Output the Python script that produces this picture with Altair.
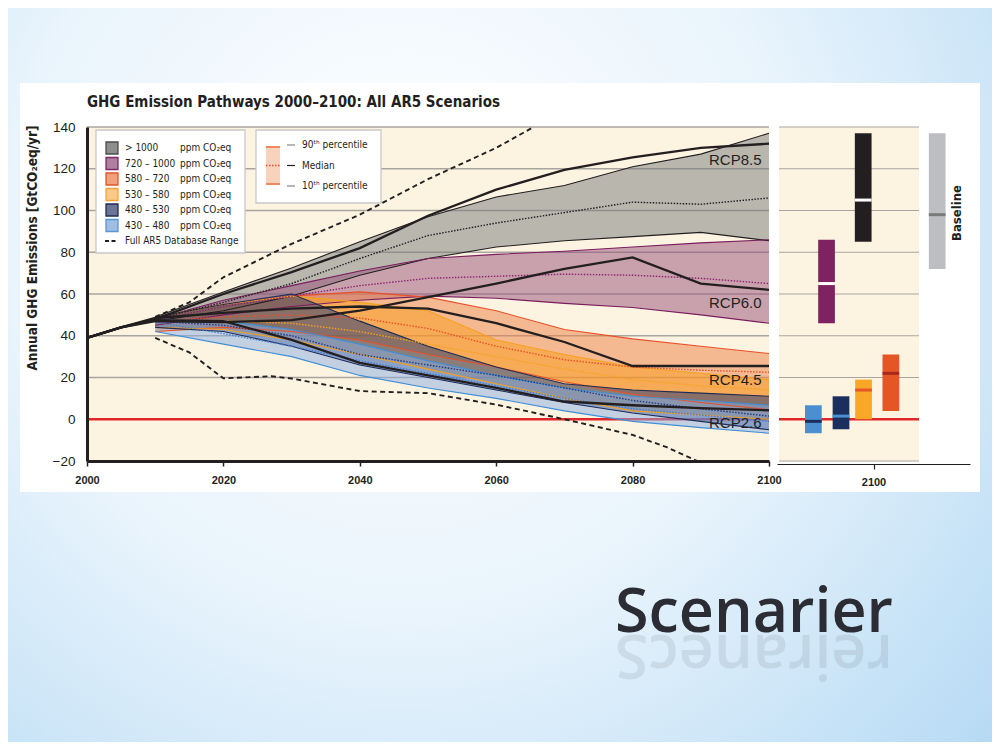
import altair as alt
import pandas as pd

# ------------------------------------------------------------------ data
years = [2010, 2020, 2030, 2040, 2050, 2060, 2070, 2080, 2090, 2100]
categories = [">1000", "720–1000", "580–720", "530–580", "480–530", "430–480"]
legend_labels = ["> 1000", "720 – 1000", "580 – 720", "530 – 580", "480 – 530", "430 – 480"]
unit_label = "ppm CO₂eq"
range_label = "Full AR5 Database Range"

p90_gt1000 = [49, 61, 72.5, 85, 97, 106.5, 112, 121, 127, 137]
med_gt1000 = [48, 56, 65, 77, 88, 94, 99, 104, 103, 106]
p10_gt1000 = [47, 52, 59, 69, 77, 82.5, 85.5, 87.5, 89.5, 85.5]

p90_720 = [48, 57, 64, 71, 77, 79, 80.5, 82.5, 84.5, 86]
med_720 = [47.5, 54, 59, 64, 67.5, 68.5, 69.5, 69, 67.5, 65]
p10_720 = [45, 50, 54, 57, 59, 58, 55.5, 53.5, 50, 46]

p90_580 = [49, 55, 59, 61, 58.5, 52, 43, 38.5, 35, 31.5]
med_580 = [47, 49, 50, 48.5, 43.5, 35, 28.5, 25, 23.5, 22.5]
p10_580 = [42, 44, 42, 38, 31, 25, 18, 12, 8, 4.5]

p90_530 = [49, 55, 59, 56, 52, 38, 31, 25, 22, 19]
med_530 = [47, 47, 46, 42, 36, 30, 24, 19, 16, 14]
p10_530 = [44, 43, 38, 31, 24, 17, 10, 4, 2, 0]

p90_480 = [49, 55, 60, 47, 35, 25, 17, 14, 12.5, 11]
med_480 = [47, 45, 40, 31, 26, 21, 15, 9, 5, 1.5]
p10_480 = [44, 42, 35, 26, 20, 14, 8, 3, -1, -5]

p90_430 = [48, 47, 43, 36, 28, 21, 15, 11, 9, 6.7]
med_430 = [46.5, 41, 35, 28, 22, 16, 10, 5, 2, -1]
p10_430 = [42, 36, 30, 21, 15, 10, 4, -1, -4, -6.7]

rcp_names = ["RCP8.5", "RCP6.0", "RCP4.5", "RCP2.6"]
rcp_years = [2000, 2005, 2010, 2020, 2030, 2040, 2050, 2060, 2070, 2080, 2090, 2100]
rcp85 = [39, 44, 48, 60, 70.5, 82, 97.5, 110, 119.5, 125.5, 130, 132]
rcp60 = [39, 44, 47, 46.5, 47.5, 52, 58.5, 65, 72, 77.5, 65, 62]
rcp45 = [39, 44, 48.5, 51, 53, 54, 53, 46, 37, 25.5, 25.5, 25.5]
rcp26 = [39, 44, 47.5, 47, 38, 27, 21, 15, 8.5, 6.7, 5.3, 4.3]

range_hi_years = [2010, 2015, 2020, 2030, 2040, 2050, 2060, 2065.5]
range_hi = [49, 56, 68, 84, 98, 115, 130, 140]
range_lo_years = [2010, 2015, 2020, 2027, 2030, 2040, 2050, 2060, 2070, 2080, 2085, 2089.5]
range_lo = [39, 32, 19.6, 20.6, 19.5, 13.5, 12.5, 7, 0, -7.5, -13.4, -20]

bar_cats = ["430–480", "480–530", "530–580", "580–720", "720–1000", ">1000", "Baseline"]
bar_hi = [6.7, 11, 19, 31, 86, 137, 137]
bar_lo = [-6.7, -4.8, 0, 4, 46, 85, 72]
bar_med = [-1, 1.5, 14, 22, 65, 105, 98]

y_ticks = [-20, 0, 20, 40, 60, 80, 100, 120, 140]
x_ticks = [2000, 2020, 2040, 2060, 2080, 2100]
right_ticks = [2100]

title_text = "GHG Emission Pathways 2000–2100: All AR5 Scenarios"
ytitle_text = "Annual GHG Emissions [GtCO₂eq/yr]"
baseline_text = "Baseline"
slide_title = "Scenarier"
leg2_keys = ["p90", "med", "p10"]
leg2_labels = ["90ᵗʰ percentile", "Median", "10ᵗʰ percentile"]

# ------------------------------------------------------------------ layout / style
W, H = 984, 734
FONT = "Liberation Sans, Arial, sans-serif"
FONT_N = "Liberation Sans Narrow, DejaVu Sans Condensed, Liberation Sans, sans-serif"
INK = "#231f20"
BEIGE = "#fdf3e1"
GRID = "#a8a5a1"
FILL_OP = 0.5

band_fill = ["#75797c", "#954f78", "#ed7f42", "#f99d1c", "#1a3378", "#89ade2"]
band_edge = [INK, "#7a1d5e", "#e8502a", "#f5a11c", "#1d2b58", "#3f8fd8"]
band_med = [INK, "#8e2574", "#e8502a", "#f5a11c", "#1d3a8a", "#3f7fd0"]
legend_fill = ["#8e8e8e", "#b07fa0", "#f0a07a", "#fdc98a", "#6c7594", "#a0bde3"]
legend_stroke = ["#4d4d4d", "#7b2a68", "#e0562a", "#f6a53a", "#1e2b55", "#5b96d6"]
bar_colors = ["#4a8fd0", "#1b2f5e", "#f9a825", "#e55625", "#7f2262", "#231f20", "#bdbec2"]
bar_med_colors = ["#1b2d5c", "#4a8fd0", "#e8572a", "#a52a1d", "#ffffff", "#ffffff", "#7a7a7a"]
bar_slot = [2090.65, 2094.95, 2098.45, 2102.7, 2092.7, 2098.4, 2109.9]
rcp_label_y = [124, 55.5, 18.7, -2]
rcp_label_x = 2098.9

# ------------------------------------------------------------------ tables
band_arrays = [
    (p10_gt1000, med_gt1000, p90_gt1000),
    (p10_720, med_720, p90_720),
    (p10_580, med_580, p90_580),
    (p10_530, med_530, p90_530),
    (p10_480, med_480, p90_480),
    (p10_430, med_430, p90_430),
]
rows = []
for cat, (lo, md, hi) in zip(categories, band_arrays):
    for yr, a, b, c in zip(years, lo, md, hi):
        rows.append({"cat": cat, "year": yr, "p10": a, "med": b, "p90": c})
bands = pd.DataFrame(rows)

rcp_rows = []
for name, vals in zip(rcp_names, [rcp85, rcp60, rcp45, rcp26]):
    for yr, v in zip(rcp_years, vals):
        rcp_rows.append({"name": name, "year": yr, "val": v})
rcp_df = pd.DataFrame(rcp_rows)

range_df = pd.DataFrame(
    [{"side": "hi", "year": y, "val": v} for y, v in zip(range_hi_years, range_hi)]
    + [{"side": "lo", "year": y, "val": v} for y, v in zip(range_lo_years, range_lo)]
)
rcp_lab_df = pd.DataFrame({"name": rcp_names, "yv": rcp_label_y, "xl": [rcp_label_x] * 4})
bars_df = pd.DataFrame({"cat": bar_cats, "hi": bar_hi, "lo": bar_lo, "med": bar_med, "slot": bar_slot})
one = pd.DataFrame({"k": [0]})

# ------------------------------------------------------------------ main panel
XM = alt.Scale(domain=[2000, 2100], range=[79, 761], nice=False, zero=False)
YM = alt.Scale(domain=[-20, 140], range=[453, 119], nice=False, zero=False)
AX = alt.Axis(values=x_ticks, format="d", orient="bottom", offset=-281, title=None, grid=False,
              domainColor=INK, domainWidth=3, tickColor=INK, tickWidth=1.5, tickSize=5,
              labelFont=FONT, labelFontSize=11, labelFontWeight="bold", labelColor=INK,
              labelPadding=8, labelFlush=False, labelOverlap=False, zindex=2)
AY = alt.Axis(values=y_ticks, orient="left", offset=-79, title=None, grid=False,
              domainColor=INK, domainWidth=3, ticks=False, labelFont=FONT, labelFontSize=13.5,
              labelColor=INK, labelPadding=12, labelOverlap=False, zindex=2)


def mx(f):
    return alt.X(f"{f}:Q", scale=XM, axis=AX)


def my(f):
    return alt.Y(f"{f}:Q", scale=YM, axis=AY, stack=False)


main_layers = [
    alt.Chart(one).transform_calculate(x0="2000", x1="2100", y0="-20", y1="140")
    .mark_rect(fill=BEIGE).encode(x=mx("x0"), x2="x1:Q", y=my("y0"), y2="y1:Q"),
    alt.Chart(pd.DataFrame({"v": y_ticks})).transform_calculate(x0="2000", x1="2100")
    .mark_rule(stroke=GRID, strokeWidth=1.4).encode(x=mx("x0"), x2="x1:Q", y=my("v")),
    alt.Chart(pd.DataFrame({"v": [0]})).transform_calculate(x0="2000", x1="2100")
    .mark_rule(stroke="#e0262b", strokeWidth=2.5).encode(x=mx("x0"), x2="x1:Q", y=my("v")),
]
for cat, fc in zip(categories, band_fill):
    main_layers.append(
        alt.Chart(bands).transform_filter(alt.datum.cat == cat)
        .mark_area(fill=fc, opacity=FILL_OP).encode(x=mx("year"), y=my("p10"), y2="p90:Q")
    )
for cat, ec in zip(categories, band_edge):
    for fld in ["p90", "p10"]:
        main_layers.append(
            alt.Chart(bands).transform_filter(alt.datum.cat == cat)
            .mark_line(stroke=ec, strokeWidth=1.1).encode(x=mx("year"), y=my(fld))
        )
for cat, mc in zip(categories, band_med):
    main_layers.append(
        alt.Chart(bands).transform_filter(alt.datum.cat == cat)
        .mark_line(stroke=mc, strokeWidth=1.4, strokeDash=[1.5, 1.5]).encode(x=mx("year"), y=my("med"))
    )
main_layers += [
    alt.Chart(rcp_df).mark_line(stroke=INK, strokeWidth=2.3)
    .encode(x=mx("year"), y=my("val"), detail="name:N"),
    alt.Chart(range_df).mark_line(stroke=INK, strokeWidth=1.9, strokeDash=[5, 3.5])
    .encode(x=mx("year"), y=my("val"), detail="side:N"),
    alt.Chart(rcp_lab_df).mark_text(align="right", baseline="middle", font=FONT, fontSize=15, color=INK)
    .encode(x=mx("xl"), y=my("yv"), text="name:N"),
]
main = alt.layer(*main_layers)

# ------------------------------------------------------------------ right panel (2100 ranges)
XR = alt.Scale(domain=[2085, 2115], range=[769, 962], nice=False, zero=False)
AXR = alt.Axis(values=right_ticks, format="d", orient="bottom", offset=-278, title=None, grid=False,
               domainColor=INK, domainWidth=1, tickColor=INK, tickWidth=1.2, tickSize=5,
               labelFont=FONT, labelFontSize=11, labelFontWeight="bold", labelColor=INK,
               labelPadding=7, labelFlush=False, zindex=2)


def rx(f):
    return alt.X(f"{f}:Q", scale=XR, axis=AXR)


def ry(f):
    return alt.Y(f"{f}:Q", scale=YM, axis=None, stack=False)


right = alt.layer(
    alt.Chart(one).transform_calculate(x0="2085.31", x1="2107.07", y0="-20", y1="140")
    .mark_rect(fill=BEIGE).encode(x=rx("x0"), x2="x1:Q", y=ry("y0"), y2="y1:Q"),
    alt.Chart(pd.DataFrame({"v": y_ticks})).transform_calculate(x0="2085.31", x1="2107.07")
    .mark_rule(stroke=GRID, strokeWidth=1.2).encode(x=rx("x0"), x2="x1:Q", y=ry("v")),
    alt.Chart(pd.DataFrame({"v": [0]})).transform_calculate(x0="2085.31", x1="2107.07")
    .mark_rule(stroke="#e0262b", strokeWidth=2.5).encode(x=rx("x0"), x2="x1:Q", y=ry("v")),
    alt.Chart(bars_df).transform_calculate(x0="datum.slot - 1.3", x1="datum.slot + 1.3")
    .mark_rect().encode(
        x=rx("x0"), x2="x1:Q", y=ry("lo"), y2="hi:Q",
        fill=alt.Fill("cat:N", scale=alt.Scale(domain=bar_cats, range=bar_colors), legend=None)),
    alt.Chart(bars_df).transform_calculate(x0="datum.slot - 1.3", x1="datum.slot + 1.3")
    .mark_rule(strokeWidth=3).encode(
        x=rx("x0"), x2="x1:Q", y=ry("med"),
        stroke=alt.Stroke("cat:N", scale=alt.Scale(domain=bar_cats, range=bar_med_colors), legend=None)),
)

# ------------------------------------------------------------------ legend 1
keys1 = categories + ["range"]
LY1 = alt.Scale(type="point", domain=keys1, range=[140, 233], padding=0)
leg1_df = pd.DataFrame({"key": categories, "label": legend_labels, "unit": [unit_label] * 6})
LFS = 10
leg1 = alt.layer(
    alt.Chart(one).mark_rect(fill="white", stroke="#c9c9c9", strokeWidth=1.3)
    .encode(x=alt.value(88), x2=alt.value(237), y=alt.value(122), y2=alt.value(245)),
    alt.Chart(leg1_df).mark_square(size=144, opacity=1, strokeWidth=1.3).encode(
        x=alt.value(104), y=alt.Y("key:N", scale=LY1, axis=None),
        fill=alt.Fill("key:N", scale=alt.Scale(domain=categories, range=legend_fill), legend=None),
        stroke=alt.Stroke("key:N", scale=alt.Scale(domain=categories, range=legend_stroke), legend=None)),
    alt.Chart(leg1_df).mark_text(align="left", baseline="middle", font=FONT_N, fontSize=LFS, color=INK)
    .encode(x=alt.value(117), y=alt.Y("key:N", scale=LY1, axis=None), text="label:N"),
    alt.Chart(leg1_df).mark_text(align="left", baseline="middle", font=FONT_N, fontSize=LFS, color=INK)
    .encode(x=alt.value(172), y=alt.Y("key:N", scale=LY1, axis=None), text="unit:N"),
    alt.Chart(pd.DataFrame({"key": ["range"], "label": [range_label]}))
    .mark_rule(stroke=INK, strokeWidth=2.2, strokeDash=[4, 2.5])
    .encode(x=alt.value(97), x2=alt.value(110), y=alt.Y("key:N", scale=LY1, axis=None)),
    alt.Chart(pd.DataFrame({"key": ["range"], "label": [range_label]}))
    .mark_text(align="left", baseline="middle", font=FONT_N, fontSize=LFS, color=INK)
    .encode(x=alt.value(117), y=alt.Y("key:N", scale=LY1, axis=None), text="label:N"),
)

# ------------------------------------------------------------------ legend 2
LY2 = alt.Scale(type="point", domain=leg2_keys, range=[137, 178], padding=0)
leg2_df = pd.DataFrame({"key": leg2_keys, "label": leg2_labels})
leg2 = alt.layer(
    alt.Chart(one).mark_rect(fill="white", stroke="#c9c9c9", strokeWidth=1.3)
    .encode(x=alt.value(248), x2=alt.value(373), y=alt.value(122), y2=alt.value(195)),
    alt.Chart(one).mark_rect(fill="#f9d2bb")
    .encode(x=alt.value(258), x2=alt.value(272), y=alt.value(139), y2=alt.value(176)),
    alt.Chart(one).mark_rule(stroke="#f08a5d", strokeWidth=2)
    .encode(x=alt.value(258), x2=alt.value(272), y=alt.value(139)),
    alt.Chart(one).mark_rule(stroke="#f08a5d", strokeWidth=2)
    .encode(x=alt.value(258), x2=alt.value(272), y=alt.value(176)),
    alt.Chart(one).mark_rule(stroke="#e8502a", strokeWidth=1.3, strokeDash=[1.5, 1.5])
    .encode(x=alt.value(258), x2=alt.value(272), y=alt.value(157.5)),
    alt.Chart(leg2_df).mark_rule(strokeWidth=1.2).encode(
        x=alt.value(279), x2=alt.value(287), y=alt.Y("key:N", scale=LY2, axis=None),
        stroke=alt.Stroke("key:N", scale=alt.Scale(domain=leg2_keys, range=["#888888", INK, "#888888"]), legend=None)),
    alt.Chart(leg2_df).mark_text(align="left", baseline="middle", font=FONT_N, fontSize=LFS, color=INK)
    .encode(x=alt.value(294), y=alt.Y("key:N", scale=LY2, axis=None), text="label:N"),
)

# ------------------------------------------------------------------ slide decoration & texts
slide_bg = alt.Chart(one).mark_rect(
    fill=alt.RadialGradient(
        gradient="radial", x1=0.4, y1=0.35, r1=0, x2=0.4, y2=0.35, r2=0.8,
        stops=[alt.GradientStop(color="#ffffff", offset=0),
               alt.GradientStop(color="#e9f4fc", offset=0.5),
               alt.GradientStop(color="#b6daf4", offset=1)])
).encode(x=alt.value(0), x2=alt.value(W), y=alt.value(0), y2=alt.value(H))
white_panel = alt.Chart(one).mark_rect(fill="white").encode(
    x=alt.value(12), x2=alt.value(972), y=alt.value(75), y2=alt.value(484))

title_t = alt.Chart(pd.DataFrame({"t": [title_text]})).mark_text(
    align="left", baseline="alphabetic", font=FONT_N, fontSize=15, fontWeight="bold", color=INK
).encode(x=alt.value(79), y=alt.value(99), text="t:N")
ytitle_t = alt.Chart(pd.DataFrame({"t": [ytitle_text]})).mark_text(
    align="center", baseline="middle", angle=270, font=FONT_N, fontSize=13.5, fontWeight="bold", color=INK
).encode(x=alt.value(25), y=alt.value(240), text="t:N")
baseline_t = alt.Chart(pd.DataFrame({"t": [baseline_text]})).mark_text(
    align="center", baseline="middle", angle=270, font=FONT_N, fontSize=13, fontWeight="bold", color=INK
).encode(x=alt.value(949), y=alt.value(205), text="t:N")
scen_t = alt.Chart(pd.DataFrame({"t": [slide_title]})).mark_text(
    align="left", baseline="alphabetic", font="Open Sans", fontSize=61, fontWeight=600, color="#2c2c34"
).encode(x=alt.value(607), y=alt.value(624), text="t:N")
# faint mirror image under the slide title
scen_reflect = alt.Chart(pd.DataFrame({"t": [slide_title[::-1]]})).mark_text(
    align="right", baseline="alphabetic", angle=180, font="Open Sans", fontSize=61, fontWeight=600,
    color="#2c2c34", opacity=0.09
).encode(x=alt.value(607), y=alt.value(627), text="t:N")

chart = alt.layer(
    slide_bg, white_panel, main, right, leg1, leg2, title_t, ytitle_t, baseline_t, scen_reflect, scen_t
).resolve_scale(
    x="independent", y="independent", fill="independent", stroke="independent"
).properties(
    width=W, height=H, padding=0, autosize=alt.AutoSizeParams(type="none"), background="#cfe6f8"
).configure_view(strokeWidth=0)

chart.save("out.html", embed_options={"renderer": "svg", "actions": False})
